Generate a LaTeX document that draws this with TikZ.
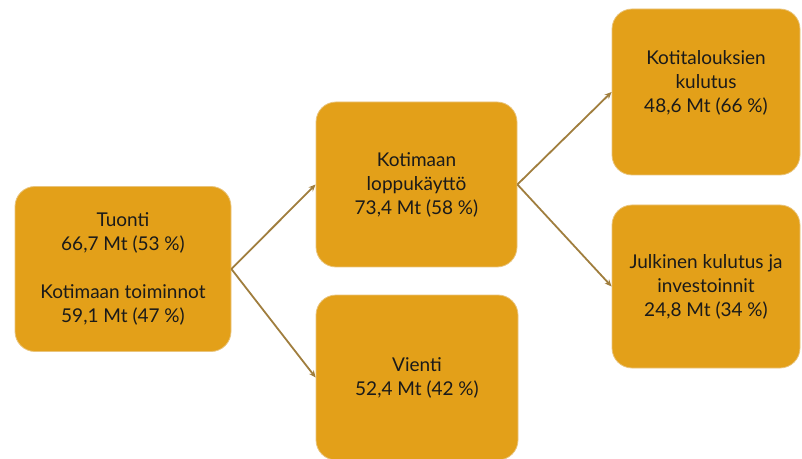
\documentclass[tikz,border=0pt]{standalone}
\usepackage{fontspec}
\setmainfont{Lato}
\usetikzlibrary{arrows.meta}
\definecolor{boxfill}{HTML}{E3A019}
\definecolor{boxline}{HTML}{E9C47C}
\definecolor{arrowcol}{HTML}{A07E3E}
\definecolor{ink}{HTML}{1A1A1A}
\tikzset{
  card/.style={draw=boxline, line width=0.8pt, fill=boxfill, rounded corners=20pt,
    align=center, font=\fontsize{19}{24}\selectfont, text=ink, inner sep=0pt},
  flow/.style={draw=arrowcol, line width=1.8pt, -{Stealth[length=7pt,width=6pt]}}
}
\begin{document}
\begin{tikzpicture}[x=1pt,y=1pt]
\useasboundingbox (0,0) rectangle (802,458);
\node[card, minimum width=216pt, minimum height=165pt] (L) at (123,189)
  {Tuonti\\66,7 Mt (53 \%)\\[24pt]Kotimaan toiminnot\\59,1 Mt (47 \%)};
\node[card, minimum width=201pt, minimum height=165pt] (MT) at (416.5,273.5)
  {Kotimaan\\loppukäyttö\\73,4 Mt (58 \%)};
\node[card, minimum width=202pt, minimum height=165pt] (MB) at (417,80.5)
  {Vienti\\52,4 Mt (42 \%)};
\node[card, minimum width=188pt, minimum height=166pt] (RT) at (706,366)
  {Kotitalouksien\\kulutus\\48,6 Mt (66 \%)\\[-4pt]\mbox{}};
\node[card, minimum width=188pt, minimum height=163pt] (RB) at (706,171.5)
  {Julkinen kulutus ja\\investoinnit\\24,8 Mt (34 \%)};
\draw[flow] (L.east) -- (MT.west);
\draw[flow] (L.east) -- (MB.west);
\draw[flow] (MT.east) -- (RT.west);
\draw[flow] (MT.east) -- (RB.west);
\end{tikzpicture}
\end{document}
